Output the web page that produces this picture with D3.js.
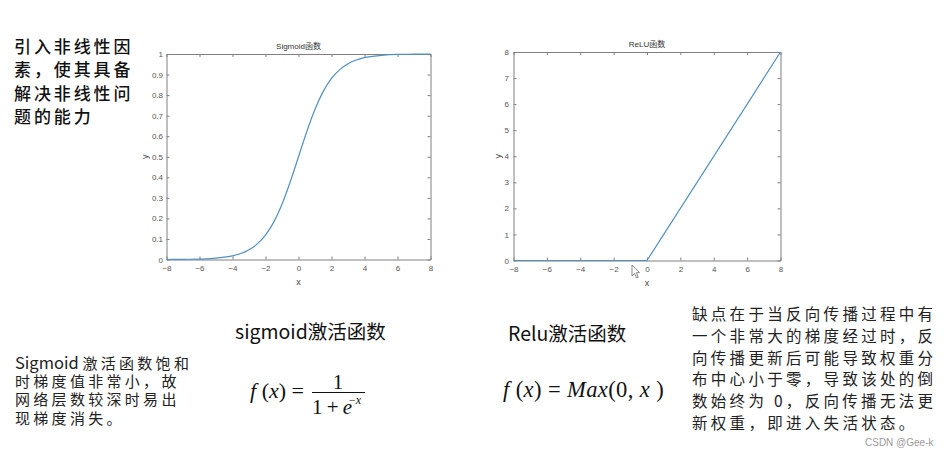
<!DOCTYPE html>
<html><head><meta charset="utf-8">
<script src="https://cdn.jsdelivr.net/npm/d3@7"></script>
<style>
html,body{margin:0;padding:0;background:#fff;}
svg{display:block;}
</style></head>
<body>
<svg id="c" width="949" height="455"></svg>
<script>
// ---- data ----
const sigX = [-8,-7,-6,-5,-4,-3.5,-3,-2.5,-2,-1.5,-1,-0.5,0,0.5,1,1.5,2,2.5,3,3.5,4,5,6,7,8];
const sigY = [0.000,0.001,0.002,0.007,0.018,0.029,0.047,0.076,0.119,0.182,0.269,0.378,0.500,0.622,0.731,0.818,0.881,0.924,0.953,0.971,0.982,0.993,0.998,0.999,1.000];
const reluX = [-8,0,8];
const reluY = [0,0,8];
const xTicks = [-8,-6,-4,-2,0,2,4,6,8];
const sigYTicks = [0,0.1,0.2,0.3,0.4,0.5,0.6,0.7,0.8,0.9,1];
const reluYTicks = [0,1,2,3,4,5,6,7,8];
const sigTitle = "Sigmoid函数";
const reluTitle = "ReLU函数";
const topLeftText = ["引入非线性因","素，使其具备","解决非线性问","题的能力"];
const bottomLeftLatin = "Sigmoid ";
const bottomLeftText = ["激活函数饱和","时梯度值非常小，故","网络层数较深时易出","现梯度消失。"];
const rightText = ["缺点在于当反向传播过程中有","一个非常大的梯度经过时，反","向传播更新后可能导致权重分","布中心小于零，导致该处的倒","数始终为 0，反向传播无法更","新权重，即进入失活状态。"];
const sigHeading = "sigmoid激活函数";
const reluHeading = "Relu激活函数";
const watermark = "CSDN @Gee-k";

const svg = d3.select("#c");
const lineColor = "#5090c2";
const axisColor = "#808080";
const tickTextColor = "#555";

function drawPlot(box, xs, ys, yDomain, yTicks, title, yFmt, curve, yPad, yLabOff){
  const g = svg.append("g");
  const x = d3.scaleLinear().domain([-8,8]).range([box.l, box.r]);
  const y = d3.scaleLinear().domain(yDomain).range([box.b, box.t]);
  const mk = (ax, tr) => {
    const a = g.append("g").attr("transform", tr).call(ax);
    a.select(".domain").attr("stroke", axisColor);
    a.selectAll(".tick line").attr("stroke", axisColor);
    a.selectAll("text").attr("fill", tickTextColor).style("font-family","Liberation Sans, Arial, sans-serif").style("font-size","8px");
    return a;
  };
  mk(d3.axisBottom(x).tickValues(xTicks).tickSize(-3).tickPadding(6).tickSizeOuter(0), `translate(0,${box.b})`);
  mk(d3.axisTop(x).tickValues(xTicks).tickSize(-3).tickFormat("").tickSizeOuter(0), `translate(0,${box.t})`);
  mk(d3.axisLeft(y).tickValues(yTicks).tickSize(-3).tickPadding(yPad).tickFormat(yFmt).tickSizeOuter(0), `translate(${box.l},0)`);
  mk(d3.axisRight(y).tickValues(yTicks).tickSize(-3).tickFormat("").tickSizeOuter(0), `translate(${box.r},0)`);
  const pts = xs.map((v,i)=>[v, ys[i]]);
  const line = d3.line().x(d=>x(d[0])).y(d=>y(d[1])).curve(curve);
  g.append("path").datum(pts).attr("d", line).attr("fill","none").attr("stroke", lineColor).attr("stroke-width",1.2);
  g.append("text").attr("x",(box.l+box.r)/2).attr("y",box.t-5).attr("text-anchor","middle")
    .attr("fill","#333").style("font-family","Liberation Sans, Noto Sans CJK SC, sans-serif").style("font-size","8px").text(title);
  g.append("text").attr("x",(box.l+box.r)/2).attr("y",box.b+25).attr("text-anchor","middle")
    .attr("fill","#444").style("font-family","Liberation Sans, Arial, sans-serif").style("font-size","9px").text("x");
  g.append("text").attr("transform",`translate(${box.l-yLabOff},${(box.t+box.b)/2}) rotate(-90)`).attr("text-anchor","middle")
    .attr("fill","#444").style("font-family","Liberation Sans, Arial, sans-serif").style("font-size","9px").text("y");
}

drawPlot({l:166.5,r:430.5,t:54,b:259.5}, sigX, sigY, [0,1], sigYTicks, sigTitle, d3.format("~g"), d3.curveMonotoneX, 3.5, 18.5);
drawPlot({l:513.5,r:780.5,t:52,b:260.5}, reluX, reluY, [0,8], reluYTicks, reluTitle, d3.format("d"), d3.curveLinear, 4.5, 12.5);

// mouse cursor seen in the screenshot
svg.append("path").attr("d","M632,265 L632,276 L634.5,273.5 L636.5,278 L638.2,277.2 L636.3,272.8 L639.5,272.6 Z")
  .attr("fill","#fff").attr("stroke","#777").attr("stroke-width",0.9);

const cjk = "Noto Sans CJK SC, sans-serif";
function block(lines, x, y0, dy, size, spacing, weight, color){
  return lines.map((t,i)=>
    svg.append("text").attr("x",x).attr("y",y0+i*dy).attr("dominant-baseline","central")
      .attr("fill",color).style("font-family",cjk).style("font-size",size+"px")
      .style("letter-spacing",spacing+"px").style("font-weight",weight).text(t));
}
block(topLeftText, 14, 45, 23.5, 17, 2.9, 500, "#111");
const bl = block(bottomLeftText, 15, 361.5, 18.7, 15, 3.3, 400, "#222");
// first line starts with latin word
bl[0].text(null);
bl[0].append("tspan").style("letter-spacing","0px").style("font-size","16.5px").text(bottomLeftLatin);
bl[0].append("tspan").text(bottomLeftText[0]);
block(rightText, 692, 313, 21.8, 15.5, 3.3, 400, "#222");

svg.append("text").attr("x",235).attr("y",330).attr("dominant-baseline","central")
  .attr("fill","#111").style("font-family",cjk).style("font-size","19.5px").text(sigHeading);
svg.append("text").attr("x",508).attr("y",332).attr("dominant-baseline","central")
  .attr("fill","#111").style("font-family",cjk).style("font-size","19.5px").text(reluHeading);

// formulas
const serif = "Liberation Serif, Times New Roman, serif";
const f1 = svg.append("text").attr("x",250).attr("y",398).attr("fill","#111").style("font-family",serif).style("font-size","22px");
f1.append("tspan").style("font-style","italic").text("f");
f1.append("tspan").text(" (");
f1.append("tspan").style("font-style","italic").text("x");
f1.append("tspan").text(") =");
svg.append("line").attr("x1",312).attr("x2",365).attr("y1",392.5).attr("y2",392.5).attr("stroke","#111").attr("stroke-width",1.1);
svg.append("text").attr("x",338).attr("y",389).attr("text-anchor","middle").attr("fill","#111").style("font-family",serif).style("font-size","21px").text("1");
const den = svg.append("text").attr("x",312).attr("y",414).attr("fill","#111").style("font-family",serif).style("font-size","21px");
den.append("tspan").text("1\u2009+\u2009");
den.append("tspan").style("font-style","italic").text("e");
const sup = svg.append("text").attr("x",349).attr("y",404).attr("fill","#111").style("font-family",serif).style("font-size","12px");
sup.append("tspan").text("\u2212");
sup.append("tspan").style("font-style","italic").text("x");

const f2 = svg.append("text").attr("x",503).attr("y",397).attr("fill","#111").style("font-family",serif).style("font-size","22.5px").style("letter-spacing","0.4px");
f2.append("tspan").style("font-style","italic").text("f");
f2.append("tspan").text(" (");
f2.append("tspan").style("font-style","italic").text("x");
f2.append("tspan").text(") = ");
f2.append("tspan").style("font-style","italic").text("Max");
f2.append("tspan").text("(0, ");
f2.append("tspan").style("font-style","italic").text("x");
f2.append("tspan").text(" )");

svg.append("text").attr("x",865).attr("y",442).attr("dominant-baseline","central").attr("fill","#9a9a9a")
  .style("font-family","Liberation Sans, Arial, sans-serif").style("font-size","10px").text(watermark);
</script>
</body></html>
